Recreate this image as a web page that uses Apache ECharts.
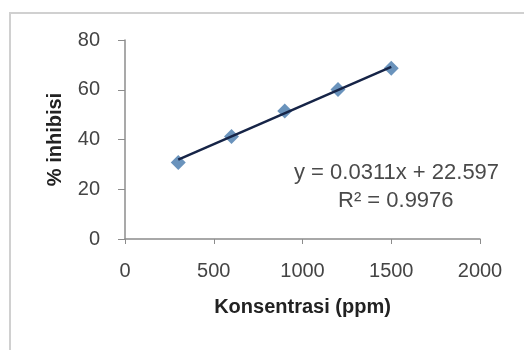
<!DOCTYPE html>
<html><head><meta charset="utf-8">
<script src="https://cdn.jsdelivr.net/npm/echarts@6/dist/echarts.min.js"></script>
<style>html,body{margin:0;padding:0;background:#fff}#c{width:524px;height:350px}</style>
</head><body><div id="c"></div>
<script>
var concX = [300, 600, 900, 1200, 1500];
var inhibY = [30.8, 41.2, 51.5, 60.1, 68.6];
var trendX = [300, 1500];
var trendY = [31.9, 69.2];
var xTicks = [0, 500, 1000, 1500, 2000];
var yTicks = [0, 20, 40, 60, 80];
var eqLine1 = 'y = 0.0311x + 22.597';
var eqLine2 = 'R² = 0.9976';
var xTitle = 'Konsentrasi (ppm)';
var yTitle = '% inhibisi';

var chart = echarts.init(document.getElementById('c'), null, {renderer: 'canvas'});
var font = 'Liberation Sans, Arial, sans-serif';
var axisCol = '#8c8c8c';
chart.setOption({
  animation: false,
  backgroundColor: '#fff',
  grid: {left: 125, right: 44, top: 40, bottom: 111},
  graphic: [
    {type: 'rect', shape: {x: 10, y: 13, width: 520, height: 350}, style: {fill: 'none', stroke: '#d0d0d0', lineWidth: 2}, silent: true},
    {type: 'text', left: 294, top: 162, style: {text: eqLine1, font: '22px ' + font, fill: '#4a4a4a'}},
    {type: 'text', left: 338, top: 190, style: {text: eqLine2, font: '22px ' + font, fill: '#4a4a4a'}}
  ],
  xAxis: {
    type: 'value', min: xTicks[0], max: xTicks[xTicks.length - 1], interval: 500,
    name: xTitle, nameLocation: 'middle', nameGap: 58,
    nameTextStyle: {fontFamily: font, fontSize: 20, fontWeight: 'bold', color: '#222'},
    axisLine: {show: true, lineStyle: {color: axisCol, width: 1.5}},
    axisTick: {show: true, inside: false, length: 5, lineStyle: {color: axisCol}},
    axisLabel: {fontFamily: font, fontSize: 20, color: '#444', margin: 22, formatter: function (v) { return String(v); }},
    splitLine: {show: false}
  },
  yAxis: {
    type: 'value', min: yTicks[0], max: yTicks[yTicks.length - 1], interval: 20,
    name: yTitle, nameLocation: 'middle', nameGap: 60, nameRotate: 90,
    nameTextStyle: {fontFamily: font, fontSize: 20, fontWeight: 'bold', color: '#222'},
    axisLine: {show: true, lineStyle: {color: axisCol, width: 1.5}},
    axisTick: {show: true, inside: false, length: 7, lineStyle: {color: axisCol}},
    axisLabel: {fontFamily: font, fontSize: 20, color: '#444', margin: 25, formatter: function (v) { return String(v); }},
    splitLine: {show: false}
  },
  series: [
    {
      type: 'scatter', name: 'data',
      data: concX.map(function (x, i) { return [x, inhibY[i]]; }),
      symbol: 'diamond', symbolSize: 15,
      itemStyle: {color: '#5a87b5', opacity: 0.9},
      z: 2
    },
    {
      type: 'line', name: 'trend',
      data: trendX.map(function (x, i) { return [x, trendY[i]]; }),
      showSymbol: false, symbol: 'none',
      lineStyle: {color: '#162447', width: 2.5},
      z: 3
    }
  ]
});
</script></body></html>
